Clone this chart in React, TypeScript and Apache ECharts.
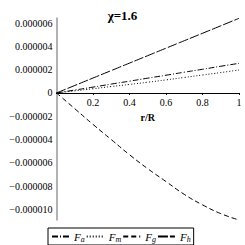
import React, { useEffect, useRef } from "react";
import * as echarts from "echarts";

const rValues = [0, 0.1, 0.2, 0.3, 0.4, 0.5, 0.6, 0.7, 0.8, 0.9, 1.0];
const faValues = [0, 0.25e-6, 0.5e-6, 0.76e-6, 1.01e-6, 1.27e-6, 1.52e-6, 1.78e-6, 2.03e-6, 2.29e-6, 2.54e-6];
const fmValues = [0, 0.18e-6, 0.36e-6, 0.55e-6, 0.73e-6, 0.92e-6, 1.12e-6, 1.33e-6, 1.54e-6, 1.75e-6, 1.97e-6];
const fgValues = [0, -1.35e-6, -2.7e-6, -4.0e-6, -5.3e-6, -6.5e-6, -7.6e-6, -8.7e-6, -9.6e-6, -10.35e-6, -10.9e-6];
const fhValues = [0, 0.64e-6, 1.28e-6, 1.92e-6, 2.56e-6, 3.2e-6, 3.84e-6, 4.48e-6, 5.12e-6, 5.76e-6, 6.4e-6];

const seriesNames = ["F_a", "F_m", "F_g", "F_h"];
const seriesSubs = ["a", "m", "g", "h"];
const xTicks = [0, 0.2, 0.4, 0.6, 0.8, 1];
const yMin = -10.9e-6;
const yMax = 6.43e-6;
const titleText = "χ=1.6";
const xName = "r/R";

const FONT = "Liberation Serif";

function pairs(ys: number[]) {
  return rValues.map((x, i) => [x, ys[i]]);
}

export default function App() {
  const ref = useRef<HTMLDivElement>(null);
  useEffect(() => {
    if (!ref.current) return;
    const chart = echarts.init(ref.current, undefined, { renderer: "svg" });
    const dashes: any[] = [[6, 2, 1, 2], [1, 2], [5, 3], [10, 2]];
    const datas = [faValues, fmValues, fgValues, fhValues];
    const gridTop = 18;
    const gridBottom = 25;
    const gridH = 245 - gridTop - gridBottom;
    const zeroFromBottom = (gridH * (0 - yMin)) / (yMax - yMin);
    chart.setOption({
      animation: false,
      backgroundColor: "#fff",
      title: {
        text: titleText,
        left: "center",
        top: 4,
        textStyle: { fontFamily: FONT, fontSize: 13, fontWeight: "bold", color: "#000" },
      },
      grid: {
        left: 56.5,
        right: 6,
        top: gridTop,
        bottom: gridBottom,
        containLabel: false,
        outerBoundsMode: "none",
      },
      legend: {
        left: 48,
        top: 228,
        itemWidth: 17,
        itemHeight: 8,
        itemGap: 1,
        padding: [2, 3, 2, 3],
        borderColor: "#000",
        borderWidth: 1,
        data: seriesNames,
        itemStyle: { opacity: 0, borderWidth: 0 },
        formatter: (name: string) => {
          const i = seriesNames.indexOf(name);
          return "{f|F}{s|" + seriesSubs[i] + "}";
        },
        textStyle: {
          fontFamily: FONT,
          color: "#000",
          rich: {
            f: { fontFamily: FONT, fontStyle: "italic", fontSize: 11, color: "#000", lineHeight: 12 },
            s: { fontFamily: FONT, fontStyle: "italic", fontSize: 8, color: "#000", padding: [5, 0, 0, 0], lineHeight: 12 },
          },
        },
      },
      xAxis: {
        type: "value",
        min: xTicks[0],
        max: xTicks[xTicks.length - 1],
        interval: 0.2,
        position: "bottom",
        offset: -zeroFromBottom,
        name: xName,
        nameLocation: "middle",
        nameGap: 16,
        nameTextStyle: { fontFamily: FONT, fontSize: 10, fontWeight: "bold", color: "#000" },
        axisLine: { onZero: false, lineStyle: { color: "#000", width: 1 } },
        axisTick: { show: true, length: 2, lineStyle: { color: "#000" } },
        axisLabel: {
          showMinLabel: false,
          margin: 5,
          fontFamily: FONT,
          fontSize: 10,
          color: "#000",
          formatter: (v: number) => String(Math.round(v * 10) / 10),
        },
        splitLine: { show: false },
      },
      yAxis: {
        type: "value",
        min: yMin,
        max: yMax,
        splitNumber: 8,
        axisLine: { show: true, lineStyle: { color: "#999", width: 1.5 } },
        axisTick: { show: false },
        axisLabel: {
          showMinLabel: false,
          showMaxLabel: false,
          margin: 4,
          fontFamily: FONT,
          fontSize: 10,
          color: "#000",
          formatter: (v: number) => {
            const r = Math.round(v * 1e6);
            if (r === 0) return "0";
            const s = (Math.abs(r) * 1e-6).toFixed(6);
            return (r < 0 ? "\u2212" : "") + s;
          },
        },
        splitLine: { show: false },
      },
      series: seriesNames.map((n, i) => ({
        name: n,
        type: "line",
        data: pairs(datas[i]),
        symbol: "none",
        showSymbol: false,
        smooth: true,
        lineStyle: { color: "#000", width: 1, type: dashes[i] },
        itemStyle: { color: "#000" },
      })),
    });
    return () => chart.dispose();
  }, []);
  return <div ref={ref} style={{ position: "fixed", left: 0, top: 0, width: 245, height: 245 }} />;
}
